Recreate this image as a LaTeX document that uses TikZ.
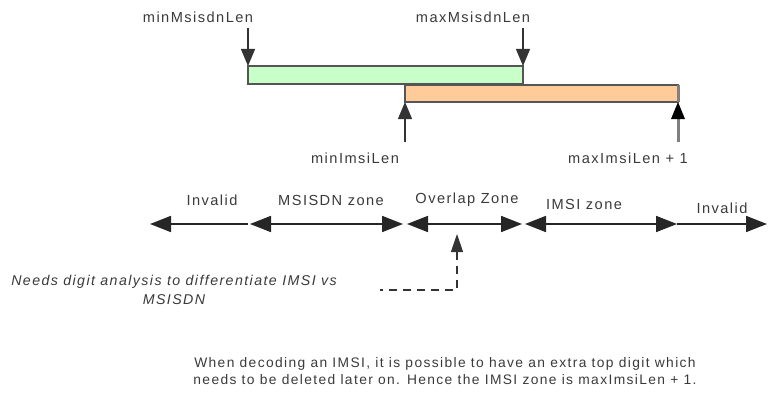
\documentclass[tikz,border=0pt]{standalone}
\usepackage{fontspec}
\setmainfont{Liberation Sans}[LetterSpace=10]
\usetikzlibrary{arrows.meta}
\definecolor{txt}{HTML}{3A3A3A}
\definecolor{greenfill}{HTML}{C8FFC8}
\definecolor{orangefill}{HTML}{FFCC99}
\definecolor{edge}{HTML}{555555}
\tikzset{
  lbl/.style={text=txt, font=\fontsize{14.6}{17}\selectfont, inner sep=0pt},
  note/.style={text=txt, font=\fontsize{13.8}{17}\selectfont, inner sep=0pt, align=center},
  tipA/.tip={Triangle[length=17pt,width=14pt]},
  tipB/.tip={Triangle[length=21pt,width=16pt]},
  vline/.style={draw=black!80, line width=1.2pt},
  zone/.style={draw=black!85, line width=1.8pt},
}
\begin{document}
\begin{tikzpicture}[x=1pt,y=-1pt]
\useasboundingbox (0,0) rectangle (768,396);
% bars
\draw[fill=greenfill, draw=edge, line width=1.5pt] (248,66) rectangle (523,84);
\draw[fill=orangefill, draw=edge, line width=1.5pt] (405,85) rectangle (678,102);
\draw[draw=gray, line width=3pt] (678,85) -- (678,102);
% top labels and markers
\node[lbl] (minM) at (198,17) {minMsisdnLen};
\node[lbl] (maxM) at (473,17) {maxMsisdnLen};
\node[lbl] (minI) at (355,158) {minImsiLen};
\node[lbl] (maxI) at (628,158) {maxImsiLen + 1};
\coordinate (a1s) at (248,28); \coordinate (a1e) at (248,66);
\coordinate (a2s) at (523,28); \coordinate (a2e) at (523,66);
\coordinate (a3s) at (405,142); \coordinate (a3e) at (405,102);
\coordinate (a4s) at (678,142); \coordinate (a4e) at (678,102);
\draw[vline, -{tipA}] (a1s) -- (a1e);
\draw[vline, -{tipA}] (a2s) -- (a2e);
\draw[vline, -{tipA}] (a3s) -- (a3e);
\draw[draw=gray, line width=3pt, -{Triangle[length=17pt,width=14pt,line width=0pt,black]}] (a4s) -- (a4e);
% zone labels
\node[lbl] (l1) at (212,200) {Invalid};
\node[lbl] (l2) at (331,200) {MSISDN zone};
\node[lbl] (l3) at (467,200) {Overlap Zone};
\node[lbl] (l4) at (584,204) {IMSI zone};
\node[lbl] (l5) at (722,208) {Invalid};
% zone arrows
\coordinate (z0) at (150,224);
\coordinate (z1) at (248,224);
\coordinate (z1b) at (250,224);
\coordinate (z2) at (403,224);
\coordinate (z2b) at (407,224);
\coordinate (z3) at (522,224);
\coordinate (z3b) at (525,224);
\coordinate (z4) at (677,224);
\coordinate (z5) at (767,224);
\draw[zone, -{tipB}] (z1) -- (z0);
\draw[zone, {tipB}-{tipB}] (z1b) -- (z2);
\draw[zone, {tipB}-{tipB}] (z2b) -- (z3);
\draw[zone, {tipB}-{tipB}] (z3b) -- (z4);
\draw[zone, -{tipB}] (z4) -- (z5);
% dashed pointer
\coordinate (d0) at (457,234);
\coordinate (d1) at (457,290);
\coordinate (d2) at (380,290);
\draw[draw=black!80, line width=1.2pt, dash pattern=on 8pt off 6pt, {Triangle[length=18pt,width=12pt]}-] (d0) -- (d1) -- (d2);
\node[note, font=\fontsize{14.2}{19}\itshape] (needs) at (174,290) {Needs digit analysis to differentiate IMSI vs\\MSISDN};
\node[note] (bottom) at (445,371) {When decoding an IMSI, it is possible to have an extra top digit which\\needs to be deleted later on. Hence the IMSI zone is maxImsiLen + 1.};
\end{tikzpicture}
\end{document}
